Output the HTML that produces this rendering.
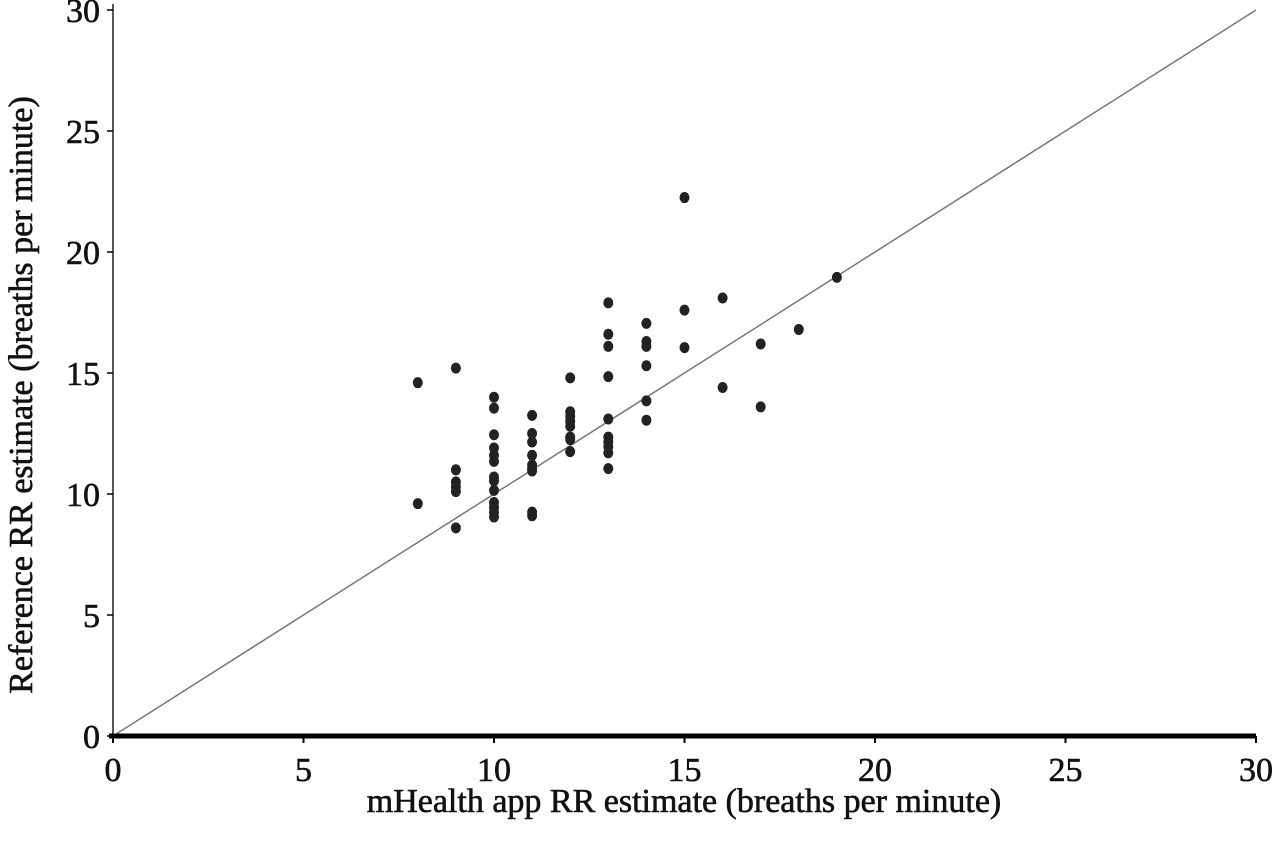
<!DOCTYPE html>
<html><head><meta charset="utf-8"><style>
html,body{margin:0;padding:0;background:#fff;}
svg{display:block;font-family:"Liberation Serif",serif;}
</style></head><body>
<svg id="chart" width="1280" height="847">
</svg>
<script>
const xValues=[8,8,9,9,9,9,9,9,10,10,10,10,10,10,10,10,10,10,10,10,10,11,11,11,11,11,11,11,11,11,12,12,12,12,12,12,12,12,13,13,13,13,13,13,13,13,13,13,14,14,14,14,14,14,15,15,15,16,16,17,17,18,19];
const yValues=[14.6,9.6,15.2,11.0,10.5,10.3,10.1,8.6,14.0,13.55,12.45,11.9,11.6,11.35,10.7,10.55,10.15,9.65,9.45,9.25,9.05,13.25,12.5,12.15,11.6,11.2,11.05,10.95,9.25,9.1,14.8,13.4,13.2,13.0,12.8,12.35,12.25,11.75,17.9,16.6,16.1,14.85,13.1,12.35,12.15,11.95,11.7,11.05,17.05,16.3,16.1,15.3,13.85,13.05,22.25,17.6,16.05,18.1,14.4,16.2,13.6,16.8,18.95];
const xTicks=[0,5,10,15,20,25,30];
const yTicks=[0,5,10,15,20,25,30];
const NS="http://www.w3.org/2000/svg";
const svg=document.getElementById('chart');
const X0=113,X1=1256,Y0=736,Y1=10;
function sx(v){return X0+(X1-X0)*v/30;}
function sy(v){return Y0-(Y0-Y1)*v/30;}
function mk(t,a){const e=document.createElementNS(NS,t);for(const k in a)e.setAttribute(k,a[k]);svg.appendChild(e);return e;}
let e;
e=mk('line',{x1:sx(0),y1:sy(0),x2:sx(30),y2:sy(30),stroke:'#777','stroke-width':1.5});


e=mk('line',{x1:X0,y1:Y0,x2:X0,y2:4,stroke:'#222','stroke-width':1.5});


e=mk('line',{x1:X0-4,y1:Y0,x2:X1,y2:Y0,stroke:'#000','stroke-width':5});


xTicks.forEach(v=>{
  const t=mk('line',{x1:sx(v),y1:Y0,x2:sx(v),y2:Y0+7,stroke:'#000','stroke-width':2});
  
  
  const l=mk('text',{x:sx(v),y:Y0+22,'font-size':34,'text-anchor':'middle',fill:'#111',stroke:'#111','stroke-width':0.6,'dominant-baseline':'hanging'});
  l.textContent=v;
  
  
});
yTicks.forEach(v=>{
  const t=mk('line',{x1:X0-6,y1:sy(v),x2:X0,y2:sy(v),stroke:'#000','stroke-width':1.5});
  
  
  const l=mk('text',{x:100,y:sy(v)+12,'font-size':34,'text-anchor':'end',fill:'#111',stroke:'#111','stroke-width':0.6});
  l.textContent=v;
  
  
});
xValues.forEach((xv,i)=>{
  const c=mk('ellipse',{cx:sx(xv),cy:sy(yValues[i]),rx:5,ry:5.5,fill:'#222'});
  
  
});
e=mk('text',{x:684,y:812,'font-size':34,'text-anchor':'middle',fill:'#111',stroke:'#111','stroke-width':0.6});
e.textContent='mHealth app RR estimate (breaths per minute)';


e=mk('text',{x:0,y:0,'font-size':34,'text-anchor':'middle',fill:'#111',stroke:'#111','stroke-width':0.6,transform:'translate(32,395) rotate(-90)'});
e.textContent='Reference RR estimate (breaths per minute)';


</script>
</body></html>
